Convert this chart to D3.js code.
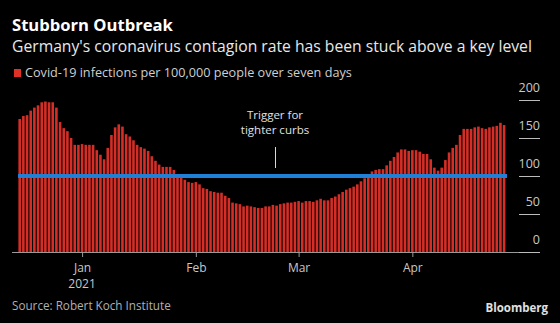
<!DOCTYPE html>
<html>
<head>
<meta charset="utf-8">
<script src="https://cdn.jsdelivr.net/npm/d3@7"></script>
<style>
body { margin: 0; background: #000; }
svg { display: block; }
</style>
</head>
<body>
<svg id="chart" width="560" height="323"></svg>
<script>
// 7-day incidence per 100k, one value per day from Dec 15, 2020
var startDate = new Date(2020, 11, 15);
var decValues = [175, 179, 180, 186, 190, 193, 197, 198, 197, 197, 190, 171, 163, 159, 150, 141, 141];
var janValues = [142, 141, 141, 141, 134, 128, 122, 137, 154, 164, 168, 165, 155, 152, 147, 141,
	138, 136, 133, 126, 120, 115, 112, 112, 112, 108, 101, 99, 95, 92, 91];
var febValues = [92, 89, 84, 83, 80, 79, 78, 78, 74, 71, 65, 64, 63, 60, 61, 60, 59, 58,
	58, 60, 60, 62, 61, 63, 64, 65, 65, 66];
var marValues = [67, 65, 67, 67, 66, 68, 70, 68, 68, 71, 73, 76, 79, 82, 84, 86, 89, 93, 97,
	101, 106, 108, 109, 109, 114, 120, 125, 131, 135, 135, 133];
var aprValues = [134, 134, 132, 129, 129, 122, 111, 107, 111, 121, 131, 137, 141, 154, 162,
	162, 162, 164, 165, 163, 162, 164, 165, 166, 170, 167];

var yTicks = [0, 50, 100, 150, 200];
var monthTicks = [new Date(2021, 0, 1), new Date(2021, 1, 1), new Date(2021, 2, 1), new Date(2021, 3, 1)];
var monthLabels = ['Jan', 'Feb', 'Mar', 'Apr'];
var threshold = 100;
var noteLines = ['Trigger for', 'tighter curbs'];

var font = '"Open Sans", "Noto Sans", sans-serif';
var values = decValues.concat(janValues, febValues, marValues, aprValues);
var data = values.map(function (v, i) {
	return { date: d3.timeDay.offset(startDate, i), value: v };
});
var endDate = data[data.length - 1].date;

// 按目标宽度调整字号
function fitWidth(sel, w) {
	var size = +sel.attr('font-size');
	var len = sel.node().getComputedTextLength();
	if (len > 0) {
		sel.attr('font-size', (size * w / len).toFixed(2));
	}
	return sel;
}

var svg = d3.select('#chart').attr('font-family', font);
svg.append('rect').attr('width', 560).attr('height', 323).attr('fill', '#000');

var x = d3.scaleTime().domain([startDate, endDate]).range([19.7, 504.1]);
var y = d3.scaleLinear().domain([0, 200]).range([252, 100]);

// 标题
fitWidth(svg.append('text').attr('x', 12).attr('y', 31)
	.attr('fill', '#fff').attr('font-size', 16).attr('font-weight', 700)
	.text('Stubborn Outbreak'), 161);
fitWidth(svg.append('text').attr('x', 12).attr('y', 51.5)
	.attr('fill', '#e8e8e8').attr('font-size', 15)
	.text("Germany's coronavirus contagion rate has been stuck above a key level"), 520);

// 图例
svg.append('rect').attr('x', 14).attr('y', 69).attr('width', 7).attr('height', 8).attr('fill', '#e03127');
fitWidth(svg.append('text').attr('x', 25).attr('y', 77)
	.attr('fill', '#cfcfcf').attr('font-size', 12)
	.text('Covid-19 infections per 100,000 people over seven days'), 327);

// 柱子
svg.append('g').selectAll('rect')
	.data(data)
	.enter()
	.append('rect')
	.attr('x', function (d) { return x(d.date) - 1.3; })
	.attr('width', 2.6)
	.attr('y', function (d) { return y(d.value); })
	.attr('height', function (d) { return y(0) - y(d.value); })
	.attr('fill', '#d52e26');

// 阈值线
svg.append('line')
	.attr('x1', 18).attr('x2', 507)
	.attr('y1', y(threshold)).attr('y2', y(threshold))
	.attr('stroke', '#1f80d8').attr('stroke-width', 4);

// 注释
svg.selectAll('.note')
	.data(noteLines)
	.enter()
	.append('text')
	.attr('class', 'note')
	.attr('x', 275)
	.attr('y', function (d, i) { return 119 + i * 15; })
	.attr('fill', '#e0e0e0').attr('font-size', 11.5).attr('text-anchor', 'middle')
	.text(function (d) { return d; });
svg.append('line')
	.attr('x1', 275.5).attr('x2', 275.5).attr('y1', 147).attr('y2', 168)
	.attr('stroke', '#d8d8d8').attr('stroke-width', 1);

// x 轴
svg.append('line').attr('x1', 12).attr('x2', 540).attr('y1', 252.5).attr('y2', 252.5)
	.attr('stroke', '#9a9a9a').attr('stroke-width', 1);
var xAxis = svg.append('g')
	.attr('transform', 'translate(0,252)')
	.call(d3.axisBottom(x).tickValues(monthTicks).tickSize(5)
		.tickFormat(function (d, i) { return monthLabels[i]; }));
xAxis.select('.domain').remove();
xAxis.selectAll('line').attr('stroke', '#9a9a9a');
xAxis.selectAll('text').attr('fill', '#c8c8c8').attr('font-size', 12)
	.attr('font-family', font).attr('y', 20).attr('dy', null);
svg.append('text').attr('x', x(monthTicks[0])).attr('y', 288)
	.attr('text-anchor', 'middle').attr('fill', '#c8c8c8').attr('font-size', 12)
	.text('2021');

// y 轴
var yAxis = svg.append('g')
	.attr('transform', 'translate(540,0)')
	.call(d3.axisLeft(y).tickValues(yTicks).tickSize(21));
yAxis.select('.domain').remove();
yAxis.selectAll('line').attr('stroke', '#bcbcbc');
yAxis.selectAll('text').attr('fill', '#c8c8c8').attr('font-size', 12.5)
	.attr('font-family', font).attr('x', 0).attr('y', -9).attr('dy', null);

// 来源
fitWidth(svg.append('text').attr('x', 12).attr('y', 310)
	.attr('fill', '#b0b0b0').attr('font-size', 11.5)
	.text('Source: Robert Koch Institute'), 159);
svg.append('text').attr('x', 548).attr('y', 312)
	.attr('text-anchor', 'end').attr('fill', '#e0e0e0').attr('font-size', 11.5).attr('font-weight', 700)
	.text('Bloomberg');
</script>
</body>
</html>
